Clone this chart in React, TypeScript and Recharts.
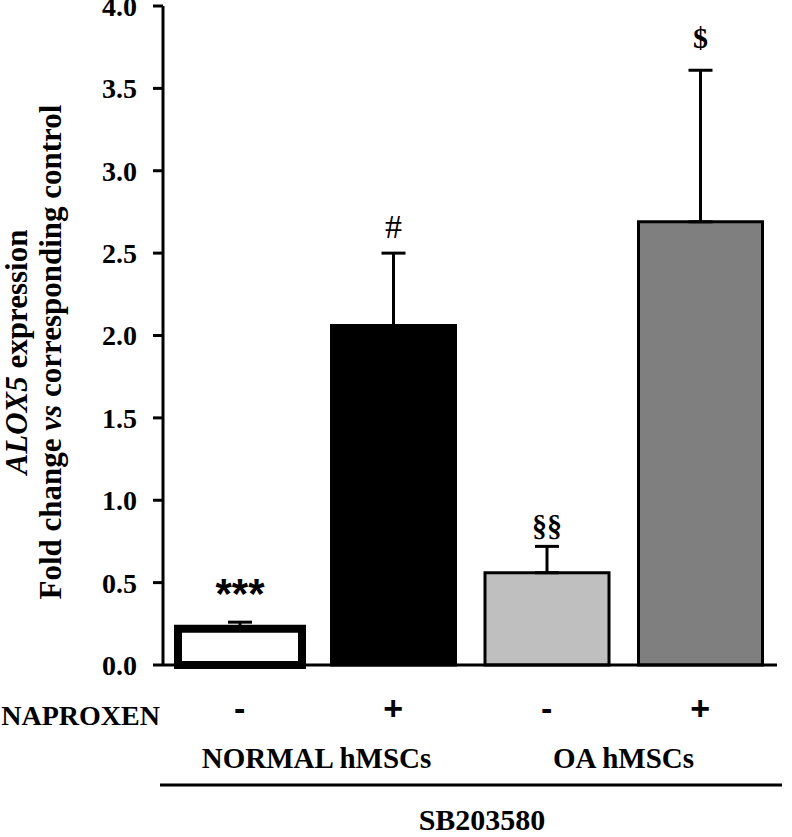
import React from 'react';
import { BarChart, Bar, XAxis, YAxis, Cell, ErrorBar, Label } from 'recharts';

// ---- data ----
const categories = ['normal-naproxen-', 'normal-naproxen+', 'oa-naproxen-', 'oa-naproxen+'];
const groups = ['NORMAL hMSCs', 'NORMAL hMSCs', 'OA hMSCs', 'OA hMSCs'];
const naproxenSigns = ['-', '+', '-', '+'];
const values = [0.22, 2.06, 0.56, 2.69];
const errors = [0.04, 0.44, 0.16, 0.92];
const significance = ['***', '#', '§§', '$'];
const yTicks = [0, 0.5, 1.0, 1.5, 2.0, 2.5, 3.0, 3.5, 4.0];

// ---- styles ----
const fills = ['#ffffff', '#000000', '#bfbfbf', '#7f7f7f'];
const strokeWidths = [8, 3, 3, 3];
const sigFonts = [
  { family: "'Liberation Sans', Arial, sans-serif", size: 42, weight: 'bold' },
  { family: "'Liberation Serif', 'Times New Roman', serif", size: 34, weight: 'normal' },
  { family: "'Liberation Serif', 'Times New Roman', serif", size: 30, weight: 'bold' },
  { family: "'Liberation Serif', 'Times New Roman', serif", size: 30, weight: 'bold' },
];
const sigGaps = [14, 15, 10, 22];
const SERIF = "'Liberation Serif', 'Times New Roman', serif";
const SANS = "'Liberation Sans', Arial, sans-serif";

const data = categories.map((c, i) => ({
  id: c,
  group: groups[i],
  value: values[i],
  err: [0, errors[i]],
  sig: significance[i],
}));

const NapTick = (props: any) => {
  const { x, payload } = props;
  const idx = categories.indexOf(payload.value);
  return (
    <text x={x} y={720} textAnchor="middle" fontFamily={SANS} fontWeight="bold" fontSize={34} fill="#000">
      {naproxenSigns[idx]}
    </text>
  );
};

const GroupTick = (props: any) => {
  const { x, payload } = props;
  return (
    <text x={x} y={768} textAnchor="middle" fontFamily={SERIF} fontWeight="bold" fontSize={29} fill="#000">
      {payload.value}
    </text>
  );
};

const NapLabel = (props: any) => {
  const vb = props.viewBox || {};
  const x0 = vb.x ?? 163;
  return (
    <text x={x0 - 3} y={725} textAnchor="end" fontFamily={SERIF} fontWeight="bold" fontSize={28} fill="#000">
      NAPROXEN
    </text>
  );
};

const SbLabel = (props: any) => {
  const vb = props.viewBox || {};
  const x0 = vb.x ?? 163;
  const w = vb.width ?? 614;
  return (
    <g>
      <line x1={x0 - 3} x2={x0 + w + 5} y1={785} y2={785} stroke="#000" strokeWidth={3} />
      <text x={x0 + w / 2 + 12} y={830} textAnchor="middle" fontFamily={SERIF} fontWeight="bold" fontSize={30} fill="#000">
        SB203580
      </text>
    </g>
  );
};

const YLabel = () => {
  const cy = 352;
  return (
    <g>
      <text x={27} y={cy} textAnchor="middle" transform={`rotate(-90 27 ${cy})`} fontFamily={SERIF} fontWeight="bold" fontSize={31} fill="#000">
        <tspan fontStyle="italic">ALOX5</tspan> expression
      </text>
      <text x={61} y={cy} textAnchor="middle" transform={`rotate(-90 61 ${cy})`} fontFamily={SERIF} fontWeight="bold" fontSize={31} fill="#000">
        Fold change <tspan fontStyle="italic">vs</tspan> corresponding control
      </text>
    </g>
  );
};

const SigLabel = (props: any) => {
  const vb = props.viewBox || props;
  const { x, y, width, height } = vb;
  const index = props.index;
  if (index == null || x == null) return null;
  const v = values[index];
  const pxPerUnit = Math.abs(height) / v;
  const errTop = y - errors[index] * pxPerUnit;
  const f = sigFonts[index];
  return (
    <text x={x + width / 2} y={errTop - sigGaps[index]} textAnchor="middle" fontFamily={f.family} fontSize={f.size} fontWeight={f.weight} fill="#000">
      {significance[index]}
    </text>
  );
};

export default function App() {
  return (
    <div style={{ position: 'absolute', left: 0, top: 0, width: 792, height: 837, background: '#fff' }}>
      <BarChart width={792} height={837} data={data} margin={{ top: 6, right: 15, bottom: 0, left: 0 }} barSize={124}>
        <YAxis
          width={163}
          domain={[0, 4]}
          ticks={yTicks}
          interval={0}
          tickFormatter={(v: number) => v.toFixed(1)}
          axisLine={{ stroke: '#000', strokeWidth: 3 }}
          tickLine={{ stroke: '#000', strokeWidth: 3 }}
          tickSize={10}
          tickMargin={16}
          tick={{ fill: '#000', fontSize: 28, fontWeight: 'bold', fontFamily: SERIF }}
          label={<Label content={YLabel} />}
        />
        <XAxis
          dataKey="id"
          height={70}
          interval={0}
          axisLine={{ stroke: '#000', strokeWidth: 3 }}
          tickLine={false}
          tick={NapTick}
          label={<Label content={NapLabel} />}
        />
        <XAxis
          xAxisId="grp"
          dataKey="group"
          allowDuplicatedCategory={false}
          height={102}
          interval={0}
          axisLine={false}
          tickLine={false}
          tick={GroupTick}
          label={<Label content={SbLabel} />}
        />
        <Bar dataKey="value" isAnimationActive={false} label={SigLabel}>
          {data.map((d, i) => (
            <Cell key={d.id} fill={fills[i]} stroke="#000" strokeWidth={strokeWidths[i]} />
          ))}
          <ErrorBar dataKey="err" direction="y" width={12} stroke="#000" strokeWidth={3} isAnimationActive={false} />
        </Bar>
      </BarChart>
    </div>
  );
}
